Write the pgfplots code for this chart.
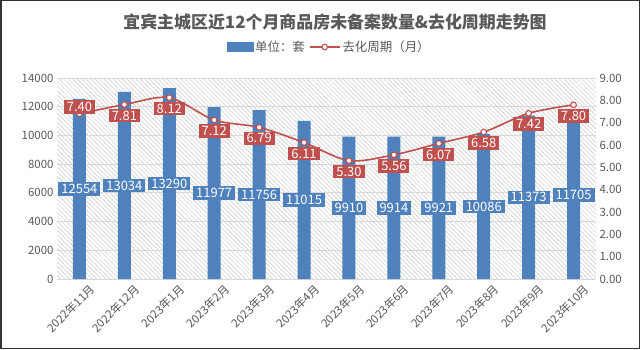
\documentclass[border=0pt]{standalone}
\usepackage{pgfplots}
\pgfplotsset{compat=1.18}
\usepackage{fontspec}
\setmainfont{Noto Sans CJK SC}
\usetikzlibrary{patterns.meta}
\definecolor{barblue}{HTML}{4F81BD}
\definecolor{linered}{HTML}{C0504D}
\definecolor{txtgray}{HTML}{595959}
\definecolor{gridgray}{HTML}{D9D9D9}
\pgfplotsset{
  mylinelegend/.style={legend image code/.code={\draw[mark repeat=2,mark phase=2,##1] plot coordinates {(0bp,0bp) (15bp,0bp) (30bp,0bp)};}},
  mybarlegend/.style={legend image code/.code={\fill[barblue] (0bp,-4.5bp) rectangle (26bp,4.5bp);}},
}
\begin{document}
\begin{tikzpicture}[x=1bp,y=1bp]
\useasboundingbox (0,0) rectangle (640,349);
\fill[white] (0,0) rectangle (640,349);
\pgfplotsset{
  base/.style={
    at={(57bp,70bp)}, anchor=south west, scale only axis,
    width=539bp, height=201bp,
    xmin=-0.5, xmax=11.5, clip=false,
    axis line style={draw=none},
    major tick length=0,
    tick label style={text=txtgray, font=\fontsize{11.5}{13}\selectfont},
    /pgf/number format/assume math mode=true,
  }
}
\begin{axis}[base,
  ymin=0, ymax=14000,
  ytick={0,2000,...,14000},
  scaled y ticks=false,
  yticklabel style={/pgf/number format/.cd, fixed, 1000 sep={}},
  ymajorgrids, grid style={gridgray, line width=0.8bp},
  axis background/.style={pattern={Lines[angle=-45,distance=3.2pt,line width=0.5pt]}, pattern color=gray!42},
  xtick={0,...,11},
  xticklabels={2022年11月,2022年12月,2023年1月,2023年2月,2023年3月,2023年4月,2023年5月,2023年6月,2023年7月,2023年8月,2023年9月,2023年10月},
  xticklabel style={rotate=45, anchor=east, xshift=7bp, yshift=-15bp},
]
\addplot[ybar, bar width=13bp, fill=barblue, draw=none] coordinates {
 (0,12554) (1,13034) (2,13290) (3,11977) (4,11756) (5,11015)
 (6,9910) (7,9914) (8,9921) (9,10086) (10,11373) (11,11705)};
\addplot[draw=none, mark=none, nodes near coords, point meta=explicit symbolic,
  every node near coord/.append style={anchor=center, fill=barblue, text=white,
   font=\fontsize{13}{15}\selectfont, inner xsep=3bp, inner ysep=2bp}]
 coordinates {
 (0,6277)[12554] (1,6517)[13034] (2,6645)[13290] (3,5988.5)[11977] (4,5878)[11756] (5,5507.5)[11015]
 (6,4955)[9910] (7,4957)[9914] (8,4960.5)[9921] (9,5043)[10086] (10,5686.5)[11373] (11,5852.5)[11705]};
\end{axis}
\begin{axis}[base,
  ymin=0, ymax=9,
  ytick={0,1,...,9},
  axis y line*=right, axis x line=none,
  yticklabel style={/pgf/number format/.cd, fixed, fixed zerofill, precision=2},
  legend style={at={(0.505,1.154)}, anchor=center, draw=none, fill=none,
    legend columns=-1, font=\fontsize{12.5}{14}\selectfont, text=txtgray,
    /tikz/every even column/.append style={column sep=2bp}},
]
\addlegendimage{mybarlegend}
\addlegendentry{单位：套}
\addplot[linered, line width=1.6bp, smooth, mark=*, mark size=2.8bp,
  mark options={fill=white, draw=linered, line width=1.1bp}, mylinelegend]
 coordinates {
 (0,7.40) (1,7.81) (2,8.12) (3,7.12) (4,6.79) (5,6.11)
 (6,5.30) (7,5.56) (8,6.07) (9,6.58) (10,7.42) (11,7.80)};
\addlegendentry{去化周期（月）}
\addplot[draw=none, mark=none, nodes near coords, point meta=explicit symbolic,
  every node near coord/.append style={anchor=center, yshift=7bp, fill=linered, text=white,
   font=\fontsize{13}{15}\selectfont, inner xsep=3bp, inner ysep=2bp}]
 coordinates {(0,7.40)[7.40]};
\addplot[draw=none, mark=none, nodes near coords, point meta=explicit symbolic,
  every node near coord/.append style={anchor=north, yshift=-4bp, fill=linered, text=white,
   font=\fontsize{13}{15}\selectfont, inner xsep=3bp, inner ysep=2bp}]
 coordinates {
 (1,7.81)[7.81] (2,8.12)[8.12] (3,7.12)[7.12] (4,6.79)[6.79] (5,6.11)[6.11]
 (6,5.30)[5.30] (7,5.56)[5.56] (8,6.07)[6.07] (9,6.58)[6.58] (10,7.42)[7.42] (11,7.80)[7.80]};
\end{axis}
\node[font=\fontsize{17}{20}\selectfont\bfseries, text=txtgray] at (335,327)
 {宜宾主城区近12个月商品房未备案数量\&去化周期走势图};
\draw[line width=1.5bp, black!80] (0.75,0.75) rectangle (639.25,348.25);
\end{tikzpicture}
\end{document}
